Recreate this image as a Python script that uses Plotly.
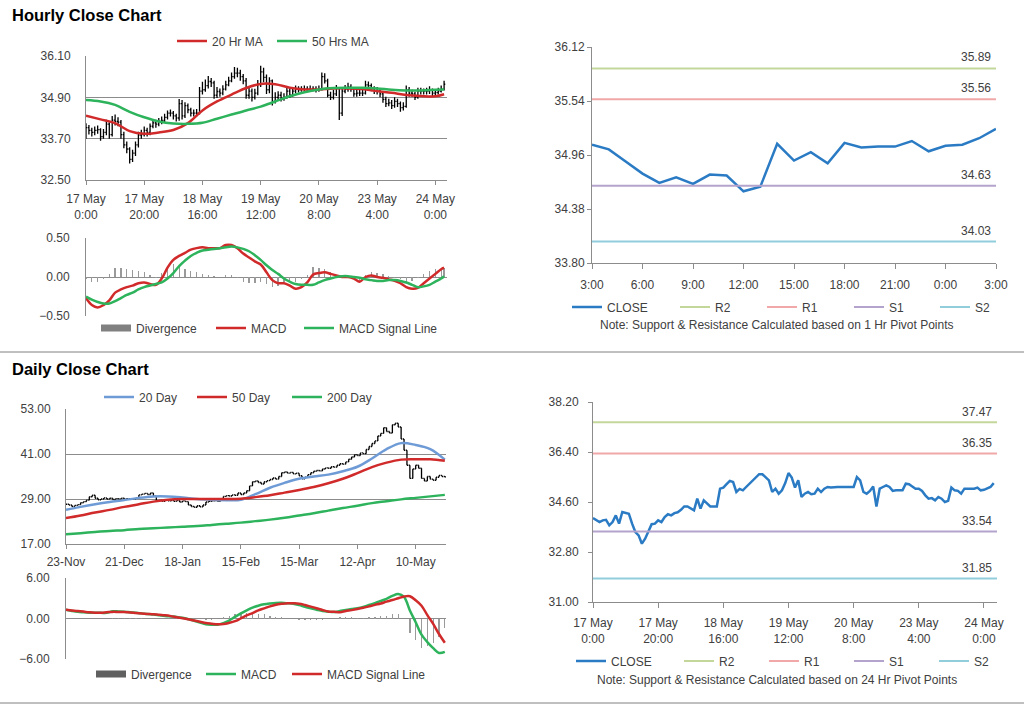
import plotly.graph_objects as go

W, H = 1024, 706
PAGE_OFF = 0  # body margin removed by post_script below
FONT = "Arial, 'Liberation Sans', Helvetica, sans-serif"
TXT = "#404040"
AXIS = "#8C8C8C"
RED = "#D12A2A"
GREEN = "#2DB35B"
BLUE20 = "#6E9BD6"
CLOSE_BLUE = "#2A7BC4"
R2C = "#C4D79B"
R1C = "#F0A8A8"
S1C = "#B4A3CC"
S2C = "#92CDDC"
DIVC = "#9A9A9A"

# ---------------- hourly data (17 May 0:00 -> 24 May) ----------------
hourly_close = [
    34.02, 33.94, 33.88, 33.94, 33.96, 33.76, 33.88, 34.12, 33.82, 34.24,
    34.20, 34.18, 33.82, 33.52, 33.40, 33.10, 33.28, 33.52, 33.80, 33.82,
    33.94, 33.88, 34.06, 34.16, 34.12, 34.20, 34.23, 34.32, 34.44, 34.44,
    34.36, 34.30, 34.72, 34.36, 34.66, 34.54, 34.44, 34.44, 34.44, 35.08,
    35.12, 35.24, 35.36, 35.32, 34.96, 35.07, 35.02, 35.14, 35.26, 35.38,
    35.50, 35.60, 35.60, 35.50, 35.38, 34.96, 35.08, 34.90, 35.02, 35.28,
    35.64, 35.48, 35.12, 35.38, 34.78, 34.90, 34.96, 34.88, 34.90, 35.08,
    34.96, 35.08, 35.14, 35.12, 35.14, 35.14, 35.14, 35.14, 35.14, 35.12,
    35.14, 35.50, 35.38, 34.96, 34.90, 35.00, 35.16, 34.44, 35.08, 35.14,
    35.20, 35.14, 35.00, 35.02, 35.02, 35.02, 35.26, 35.24, 35.16, 35.08,
    35.08, 35.00, 34.84, 34.72, 34.74, 34.66, 34.78, 34.72, 34.60, 34.64,
    35.12, 35.02, 35.00, 34.90, 35.08, 35.08, 35.08, 35.08, 35.12, 35.02,
    35.04, 35.08, 35.14, 35.28,
]
hourly_high = [
    34.15, 34.10, 34.02, 34.05, 34.08, 34.00, 33.98, 34.25, 34.18, 34.36,
    34.40, 34.32, 34.24, 33.90, 33.62, 33.45, 33.38, 33.62, 33.90, 33.96,
    34.05, 34.02, 34.14, 34.26, 34.25, 34.30, 34.34, 34.42, 34.52, 34.55,
    34.50, 34.42, 34.85, 34.82, 34.76, 34.72, 34.60, 34.55, 34.56, 35.20,
    35.35, 35.42, 35.52, 35.46, 35.38, 35.20, 35.16, 35.25, 35.38, 35.50,
    35.62, 35.78, 35.76, 35.70, 35.58, 35.46, 35.20, 35.16, 35.15, 35.40,
    35.82, 35.76, 35.56, 35.48, 35.42, 35.05, 35.08, 35.06, 35.02, 35.20,
    35.18, 35.20, 35.24, 35.22, 35.22, 35.24, 35.22, 35.24, 35.22, 35.22,
    35.24, 35.62, 35.60, 35.44, 35.06, 35.12, 35.26, 35.20, 35.18, 35.26,
    35.32, 35.28, 35.20, 35.14, 35.14, 35.12, 35.38, 35.36, 35.30, 35.22,
    35.20, 35.14, 35.06, 34.92, 34.86, 34.82, 34.90, 34.86, 34.78, 34.76,
    35.24, 35.20, 35.12, 35.06, 35.18, 35.18, 35.16, 35.18, 35.22, 35.16,
    35.14, 35.18, 35.24, 35.38,
]
hourly_low = [
    33.70, 33.82, 33.76, 33.80, 33.84, 33.64, 33.70, 33.80, 33.70, 33.76,
    34.08, 34.06, 33.70, 33.42, 33.28, 32.98, 33.02, 33.20, 33.44, 33.70,
    33.76, 33.76, 33.80, 34.00, 34.02, 34.06, 34.12, 34.18, 34.26, 34.34,
    34.26, 34.20, 34.22, 34.26, 34.30, 34.44, 34.34, 34.34, 34.34, 34.40,
    34.98, 35.06, 35.16, 35.20, 34.86, 34.88, 34.92, 34.96, 35.10, 35.22,
    35.34, 35.44, 35.48, 35.38, 35.28, 34.86, 34.86, 34.78, 34.84, 34.96,
    35.20, 35.34, 35.00, 35.02, 34.66, 34.72, 34.82, 34.78, 34.80, 34.86,
    34.88, 34.92, 35.02, 35.04, 35.06, 35.06, 35.08, 35.06, 35.08, 35.04,
    35.06, 35.10, 35.30, 34.90, 34.82, 34.84, 34.94, 34.24, 34.36, 35.02,
    35.06, 35.06, 34.92, 34.92, 34.94, 34.94, 34.98, 35.14, 35.08, 35.00,
    34.98, 34.90, 34.74, 34.62, 34.64, 34.56, 34.60, 34.62, 34.48, 34.52,
    34.60, 34.92, 34.92, 34.82, 34.86, 34.98, 34.98, 34.98, 35.00, 34.94,
    34.94, 34.98, 35.04, 35.10,
]
hourly_tick_idx = [0, 20, 40, 60, 80, 100, 120]
hourly_tick_text = ["17 May<br>0:00", "17 May<br>20:00", "18 May<br>16:00",
                    "19 May<br>12:00", "20 May<br>8:00", "23 May<br>4:00",
                    "24 May<br>0:00"]

hourly_ma_idx = [0, 5, 10, 15, 20, 25, 30, 35, 40, 45, 50, 55, 60, 65, 70,
                 75, 80, 85, 90, 95, 100, 105, 110, 115, 120, 123]
hourly_ma20 = [34.37, 34.26, 34.15, 33.92, 33.84, 33.88, 33.95, 34.15, 34.52,
               34.78, 34.98, 35.17, 35.29, 35.28, 35.18, 35.13, 35.13, 35.16,
               35.16, 35.14, 35.08, 35.03, 34.97, 34.94, 34.93, 34.99]
hourly_ma50 = [34.82, 34.78, 34.68, 34.48, 34.32, 34.20, 34.14, 34.13, 34.16,
               34.28, 34.40, 34.52, 34.63, 34.78, 34.93, 35.05, 35.13, 35.17,
               35.18, 35.18, 35.16, 35.12, 35.10, 35.10, 35.12, 35.13]

hourly_macd_idx = list(range(0, 123, 2)) + [123]
hourly_macd = [
    -0.27, -0.36, -0.39, -0.36, -0.30, -0.20, -0.16, -0.13, -0.11, -0.08,
    -0.07, -0.09, -0.10, -0.02, 0.12, 0.22, 0.27, 0.31, 0.35, 0.37,
    0.38, 0.37, 0.37, 0.37, 0.41, 0.41, 0.37, 0.30, 0.25, 0.20,
    0.16, 0.06, -0.04, -0.08, -0.08, -0.11, -0.15, -0.13, -0.07, 0.03,
    0.05, 0.06, 0.04, 0.02, 0.00, 0.00, -0.02, -0.06, 0.00, 0.02,
    0.00, -0.01, -0.03, -0.05, -0.08, -0.13, -0.15, -0.14, -0.08, -0.02,
    0.04, 0.10, 0.12,
]
hourly_signal = [
    -0.25, -0.29, -0.32, -0.34, -0.34, -0.31, -0.27, -0.23, -0.20, -0.16,
    -0.13, -0.11, -0.09, -0.07, -0.02, 0.05, 0.14, 0.21, 0.27, 0.31,
    0.34, 0.35, 0.36, 0.37, 0.38, 0.39, 0.38, 0.36, 0.33, 0.28,
    0.22, 0.15, 0.09, 0.04, -0.02, -0.06, -0.09, -0.10, -0.10, -0.10,
    -0.07, -0.04, -0.02, 0.00, 0.01, 0.01, 0.00, -0.01, -0.03, -0.04,
    -0.05, -0.05, -0.04, -0.04, -0.05, -0.07, -0.10, -0.13, -0.12, -0.10,
    -0.06, -0.02, 0.01,
]

# ---------------- last 24 hours (1 Hr pivot points) ----------------
pivot1_close = [35.07, 35.02, 34.89, 34.76, 34.66, 34.72, 34.65, 34.75, 34.74,
                34.57, 34.62, 35.08, 34.90, 34.99, 34.87, 35.09, 35.04, 35.05,
                35.05, 35.11, 35.00, 35.06, 35.07, 35.14, 35.24]
pivot1_tick_idx = [0, 3, 6, 9, 12, 15, 18, 21, 24]
pivot1_tick_text = ["3:00", "6:00", "9:00", "12:00", "15:00", "18:00",
                    "21:00", "0:00", "3:00"]
pivot1_levels = {"R2": 35.89, "R1": 35.56, "S1": 34.63, "S2": 34.03}
pivot24_levels = {"R2": 37.47, "R1": 36.35, "S1": 33.54, "S2": 31.85}
level_colors = {"R2": R2C, "R1": R1C, "S1": S1C, "S2": S2C}

# ---------------- daily data (23-Nov -> late May) ----------------
daily_close = [
    27.6, 27.4, 27.0, 27.3, 27.5, 28.0, 28.3, 28.7, 29.6, 30.0,
    29.2, 28.8, 29.0, 29.3, 29.0, 29.2, 28.9, 29.1, 29.0, 29.2,
    29.0, 29.1, 28.9, 29.0, 29.3, 30.1, 30.3, 30.5, 30.2, 30.6,
    29.8, 28.5, 28.6, 28.4, 28.7, 28.5, 28.6, 28.4, 28.6, 28.2,
    28.5, 28.3, 27.4, 27.0, 26.8, 27.2, 26.9, 27.4, 28.2, 28.4,
    28.5, 28.6, 28.4, 28.7, 29.7, 29.9, 29.8, 30.1, 30.0, 30.6,
    30.2, 30.6, 31.2, 32.5, 33.6, 33.8, 33.4, 33.0, 33.6, 33.9,
    34.2, 34.6, 34.3, 35.0, 36.0, 36.2, 35.9, 36.1, 35.7, 35.9,
    35.2, 34.4, 34.8, 35.5, 36.0, 36.4, 36.6, 36.5, 37.0, 37.3,
    37.2, 37.6, 37.5, 38.0, 38.4, 38.3, 38.9, 39.6, 40.2, 40.8,
    40.6, 41.3, 41.1, 42.2, 43.0, 43.8, 44.5, 45.8, 46.5, 48.0,
    47.0, 46.6, 48.8, 49.2, 48.2, 45.0, 42.0, 38.0, 34.5, 37.0,
    38.0, 37.2, 34.5, 33.8, 35.0, 34.3, 34.0, 34.8, 35.3, 35.0,
    34.9,
]
daily_tick_idx = [0, 20, 40, 60, 80, 100, 120]
daily_tick_text = ["23-Nov", "21-Dec", "18-Jan", "15-Feb", "15-Mar",
                   "12-Apr", "10-May"]
daily_ma_idx = list(range(0, 131, 5))
daily_ma20 = [26.1, 26.9, 27.6, 28.2, 28.7, 29.3, 29.7, 29.7, 29.4, 29.0,
              28.8, 28.7, 28.8, 30.3, 32.0, 33.3, 34.4, 35.0, 35.5, 36.4,
              37.6, 39.8, 42.3, 43.9, 43.4, 42.3, 39.5]
daily_ma50 = [23.9, 24.6, 25.4, 26.1, 26.9, 27.6, 28.3, 28.8, 29.0, 29.0,
              29.0, 29.0, 29.1, 29.5, 30.0, 30.7, 31.4, 32.2, 33.2, 34.4,
              35.9, 37.5, 38.7, 39.5, 39.6, 39.6, 39.2]
daily_ma200 = [19.6, 19.9, 20.2, 20.5, 20.7, 21.0, 21.2, 21.4, 21.6, 21.8,
               22.1, 22.4, 22.7, 23.1, 23.5, 24.0, 24.6, 25.2, 25.9, 26.6,
               27.2, 27.9, 28.4, 28.9, 29.3, 29.7, 30.1]

daily_macd_idx = list(range(0, 131, 2))
daily_macd = [
    1.29, 1.12, 0.98, 0.92, 0.87, 0.84, 0.84, 0.84, 1.07, 1.04,
    1.00, 0.92, 0.84, 0.76, 0.66, 0.59, 0.48, 0.37, 0.30, 0.24,
    0.10, -0.10, -0.33, -0.60, -0.85, -0.92, -0.92, -0.68, -0.30, 0.24,
    0.75, 1.20, 1.62, 1.90, 2.10, 2.22, 2.30, 2.32, 2.26, 2.18,
    1.98, 1.74, 1.52, 1.30, 1.10, 1.00, 0.95, 1.10, 1.27, 1.40,
    1.52, 1.72, 2.00, 2.28, 2.60, 2.92, 3.35, 3.62, 3.20, 1.19,
    -0.55, -2.40, -3.50, -4.40, -5.10, -4.95,
]
daily_signal = [
    1.29, 1.20, 1.12, 1.02, 0.91, 0.85, 0.87, 0.93, 0.98, 0.97,
    0.95, 0.90, 0.82, 0.75, 0.68, 0.62, 0.54, 0.47, 0.35, 0.18,
    0.05, -0.12, -0.30, -0.48, -0.67, -0.77, -0.86, -0.83, -0.65, -0.40,
    0.02, 0.45, 0.80, 1.20, 1.50, 1.80, 2.03, 2.17, 2.27, 2.25,
    2.20, 2.00, 1.76, 1.52, 1.27, 1.05, 1.00, 0.94, 1.10, 1.24,
    1.40, 1.58, 1.80, 2.02, 2.22, 2.50, 2.74, 3.00, 3.26, 3.30,
    2.70, 1.90, 0.50, -0.80, -2.30, -3.60,
]


def px(x):
    return (x - PAGE_OFF) / W


def py(y):
    return 1 - (y - PAGE_OFF) / H


def xdom(x0, x1):
    return [px(x0), px(x1)]


def ydom(y0, y1):
    return [py(y1), py(y0)]


fig = go.Figure()
hour_idx = list(range(len(hourly_close)))
day_idx = list(range(len(daily_close)))
piv_idx = list(range(len(pivot1_close)))

bar_line = dict(line=dict(color="black", width=1.3))

# ---- TL: hourly price bars ----
hourly_open = [hourly_close[0]] + hourly_close[:-1]
fig.add_trace(go.Ohlc(x=hour_idx, open=hourly_open, high=hourly_high, low=hourly_low,
                      close=hourly_close, xaxis="x", yaxis="y", tickwidth=0.4,
                      increasing=bar_line, decreasing=bar_line,
                      showlegend=False, hoverinfo="skip"))
fig.add_trace(go.Scatter(x=hourly_ma_idx, y=hourly_ma20, mode="lines", name="20 Hr MA",
                         line=dict(color=RED, width=2.5, shape="spline"),
                         xaxis="x", yaxis="y", legend="legend"))
fig.add_trace(go.Scatter(x=hourly_ma_idx, y=hourly_ma50, mode="lines", name="50 Hrs MA",
                         line=dict(color=GREEN, width=2.5, shape="spline"),
                         xaxis="x", yaxis="y", legend="legend2"))

# ---- TL: hourly MACD ----
hourly_div = [m - s for m, s in zip(hourly_macd, hourly_signal)]
fig.add_trace(go.Bar(x=hourly_macd_idx, y=hourly_div, width=0.45, marker_color=DIVC,
                     marker_line_width=0, xaxis="x2", yaxis="y2", showlegend=False))
fig.add_trace(go.Scatter(x=[None], y=[None], mode="lines", name="Divergence",
                         line=dict(color="#808080", width=7),
                         xaxis="x2", yaxis="y2", legend="legend3"))
fig.add_trace(go.Scatter(x=hourly_macd_idx, y=hourly_macd, mode="lines", name="MACD",
                         line=dict(color=RED, width=2.5, shape="spline"),
                         xaxis="x2", yaxis="y2", legend="legend4"))
fig.add_trace(go.Scatter(x=hourly_macd_idx, y=hourly_signal, mode="lines", name="MACD Signal Line",
                         line=dict(color=GREEN, width=2.5, shape="spline"),
                         xaxis="x2", yaxis="y2", legend="legend5"))

# ---- TR: 1 Hr pivot chart ----
fig.add_trace(go.Scatter(x=piv_idx, y=pivot1_close, mode="lines", name="CLOSE",
                         line=dict(color=CLOSE_BLUE, width=2.5),
                         xaxis="x3", yaxis="y3", legend="legend6"))
for k, (nm, lv) in enumerate(pivot1_levels.items()):
    fig.add_trace(go.Scatter(x=[piv_idx[0], piv_idx[-1]], y=[lv, lv], mode="lines", name=nm,
                             line=dict(color=level_colors[nm], width=2),
                             xaxis="x3", yaxis="y3", legend=f"legend{7 + k}"))

# ---- BL: daily price bars ----
daily_open = [daily_close[0]] + daily_close[:-1]
daily_high = [max(o, c) for o, c in zip(daily_open, daily_close)]
daily_low = [min(o, c) for o, c in zip(daily_open, daily_close)]
fig.add_trace(go.Ohlc(x=day_idx, open=daily_open, high=daily_high, low=daily_low,
                      close=daily_close, xaxis="x4", yaxis="y4", tickwidth=0.4,
                      increasing=bar_line, decreasing=bar_line,
                      showlegend=False, hoverinfo="skip"))
for k, (nm, arr, col) in enumerate([("20 Day", daily_ma20, BLUE20),
                                    ("50 Day", daily_ma50, RED),
                                    ("200 Day", daily_ma200, GREEN)]):
    fig.add_trace(go.Scatter(x=daily_ma_idx, y=arr, mode="lines", name=nm,
                             line=dict(color=col, width=2.5, shape="spline"),
                             xaxis="x4", yaxis="y4", legend=f"legend{11 + k}"))

# ---- BL: daily MACD ----
daily_div = [m - s for m, s in zip(daily_macd, daily_signal)]
fig.add_trace(go.Bar(x=daily_macd_idx, y=daily_div, width=0.45, marker_color=DIVC,
                     marker_line_width=0, xaxis="x5", yaxis="y5", showlegend=False))
fig.add_trace(go.Scatter(x=[None], y=[None], mode="lines", name="Divergence",
                         line=dict(color="#606060", width=7),
                         xaxis="x5", yaxis="y5", legend="legend14"))
fig.add_trace(go.Scatter(x=daily_macd_idx, y=daily_macd, mode="lines", name="MACD",
                         line=dict(color=GREEN, width=2.5, shape="spline"),
                         xaxis="x5", yaxis="y5", legend="legend15"))
fig.add_trace(go.Scatter(x=daily_macd_idx, y=daily_signal, mode="lines", name="MACD Signal Line",
                         line=dict(color=RED, width=2.5, shape="spline"),
                         xaxis="x5", yaxis="y5", legend="legend16"))

# ---- BR: 24 Hr pivot chart ----
fig.add_trace(go.Scatter(x=hour_idx, y=hourly_close, mode="lines", name="CLOSE",
                         line=dict(color=CLOSE_BLUE, width=2.5),
                         xaxis="x6", yaxis="y6", legend="legend17"))
for k, (nm, lv) in enumerate(pivot24_levels.items()):
    fig.add_trace(go.Scatter(x=[0, 124], y=[lv, lv], mode="lines", name=nm,
                             line=dict(color=level_colors[nm], width=2),
                             xaxis="x6", yaxis="y6", legend=f"legend{18 + k}"))

tickfont = dict(family=FONT, size=12, color=TXT)

common_x = dict(showgrid=False, zeroline=False, tickfont=tickfont, linecolor=AXIS,
                tickcolor=AXIS, rangeslider=dict(visible=False), fixedrange=True,
                automargin=False)
common_y = dict(zeroline=False, tickfont=tickfont, linecolor=AXIS, tickcolor=AXIS,
                gridcolor=AXIS, tickformat=".2f", fixedrange=True, automargin=False)

layout = dict(
    width=W, height=H, autosize=False,
    margin=dict(l=0, r=0, t=0, b=0, pad=0, autoexpand=False),
    paper_bgcolor="white", plot_bgcolor="white",
    font=dict(family=FONT, size=12, color=TXT),
    bargap=0, hovermode=False,
    xaxis=dict(common_x, domain=xdom(86, 447), range=[0, 124], anchor="y",
               tickvals=hourly_tick_idx, ticktext=hourly_tick_text, ticks="outside",
               ticklen=4, showline=True, ticklabelstandoff=4),
    yaxis=dict(common_y, domain=ydom(56, 180), range=[32.5, 36.1], anchor="x",
               tickvals=[32.5, 33.7, 34.9, 36.1], showgrid=True, showline=True,
               ticks="", ticklabelstandoff=12),
    xaxis2=dict(common_x, domain=xdom(86, 447), range=[0, 124], anchor="y2",
                showticklabels=False, showline=False, ticks=""),
    yaxis2=dict(common_y, domain=ydom(238, 316), range=[-0.5, 0.5], anchor="x2",
                tickvals=[-0.5, 0, 0.5], showgrid=True, showline=True, ticks="",
                zeroline=True, zerolinecolor=AXIS, zerolinewidth=1, ticklabelstandoff=13),
    xaxis3=dict(common_x, domain=xdom(592, 996), range=[0, 24], anchor="y3",
                tickvals=pivot1_tick_idx, ticktext=pivot1_tick_text, ticks="outside",
                ticklen=5, showline=True, ticklabelstandoff=6),
    yaxis3=dict(common_y, domain=ydom(47, 263), range=[33.80, 36.12], anchor="x3",
                tickvals=[33.80, 34.38, 34.96, 35.54, 36.12], showgrid=False,
                showline=True, ticks="outside", ticklen=4, ticklabelstandoff=0),
    xaxis4=dict(common_x, domain=xdom(66, 446), range=[0, 130.4], anchor="y4",
                tickvals=daily_tick_idx, ticktext=daily_tick_text, ticks="outside",
                ticklen=4, showline=True, ticklabelstandoff=3),
    yaxis4=dict(common_y, domain=ydom(409, 544), range=[17, 53], anchor="x4",
                tickvals=[17, 29, 41, 53], showgrid=True, showline=True, ticks="",
                ticklabelstandoff=12),
    xaxis5=dict(common_x, domain=xdom(66, 446), range=[0, 130.4], anchor="y5",
                showticklabels=False, showline=False, ticks=""),
    yaxis5=dict(common_y, domain=ydom(578, 659), range=[-6, 6], anchor="x5",
                tickvals=[-6, 0, 6], showgrid=True, showline=True, ticks="",
                zeroline=True, zerolinecolor=AXIS, zerolinewidth=1, ticklabelstandoff=13),
    xaxis6=dict(common_x, domain=xdom(593, 997), range=[0, 124], anchor="y6",
                tickvals=hourly_tick_idx, ticktext=hourly_tick_text, ticks="outside",
                ticklen=5, showline=True, ticklabelstandoff=5),
    yaxis6=dict(common_y, domain=ydom(402, 602), range=[31.0, 38.2], anchor="x6",
                tickvals=[31.0, 32.8, 34.6, 36.4, 38.2], showgrid=False,
                showline=True, ticks="outside", ticklen=4, ticklabelstandoff=7),
)

legend_pos = {
    "legend": (172, 41), "legend2": (272, 41),
    "legend3": (96, 328), "legend4": (211, 328), "legend5": (299, 328),
    "legend6": (567, 307), "legend7": (675, 307), "legend8": (762, 307),
    "legend9": (849, 307), "legend10": (935, 307),
    "legend11": (99, 397), "legend12": (192, 397), "legend13": (287, 397),
    "legend14": (91, 674), "legend15": (201, 674), "legend16": (287, 674),
    "legend17": (571, 661), "legend18": (679, 661), "legend19": (764, 661),
    "legend20": (849, 661), "legend21": (934, 661),
}
for key, (lx, ly) in legend_pos.items():
    layout[key] = dict(x=px(lx), y=py(ly), xanchor="left", yanchor="middle",
                       orientation="h", bgcolor="rgba(0,0,0,0)", borderwidth=0,
                       font=dict(family=FONT, size=12, color=TXT), itemwidth=30,
                       itemclick=False, itemdoubleclick=False)

annotations = [
    dict(text="<b>Hourly Close Chart</b>", x=px(10), y=py(15), xref="paper",
         yref="paper", xanchor="left", yanchor="middle", showarrow=False,
         font=dict(family=FONT, size=16.5, color="black")),
    dict(text="<b>Daily Close Chart</b>", x=px(10), y=py(369), xref="paper",
         yref="paper", xanchor="left", yanchor="middle", showarrow=False,
         font=dict(family=FONT, size=16.5, color="black")),
    dict(text="Note: Support & Resistance Calculated based on 1 Hr Pivot Points",
         x=px(777), y=py(325), xref="paper", yref="paper", xanchor="center",
         yanchor="middle", showarrow=False, font=dict(family=FONT, size=12, color=TXT)),
    dict(text="Note: Support & Resistance Calculated based on 24 Hr Pivot Points",
         x=px(777), y=py(680), xref="paper", yref="paper", xanchor="center",
         yanchor="middle", showarrow=False, font=dict(family=FONT, size=12, color=TXT)),
]
for nm, lv in pivot1_levels.items():
    annotations.append(dict(text=f"{lv:.2f}", x=piv_idx[-1], y=lv, xref="x3", yref="y3",
                            xanchor="right", yanchor="bottom", xshift=-3, yshift=2,
                            showarrow=False, font=dict(family=FONT, size=12, color=TXT)))
for nm, lv in pivot24_levels.items():
    annotations.append(dict(text=f"{lv:.2f}", x=124, y=lv, xref="x6", yref="y6",
                            xanchor="right", yanchor="bottom", xshift=-3, yshift=1,
                            showarrow=False, font=dict(family=FONT, size=12, color=TXT)))
layout["annotations"] = annotations
layout["shapes"] = [
    dict(type="line", xref="paper", yref="paper", x0=0, x1=1, y0=py(352),
         y1=py(352), line=dict(color="#808080", width=1)),
    dict(type="line", xref="paper", yref="paper", x0=0, x1=1, y0=py(703),
         y1=py(703), line=dict(color="#808080", width=1)),
]

fig.update_layout(**layout)
fig.write_html("out.html",
               config={"displayModeBar": False, "staticPlot": True},
               post_script="document.body.style.margin='0px';"
                           "document.body.style.overflow='hidden';")
